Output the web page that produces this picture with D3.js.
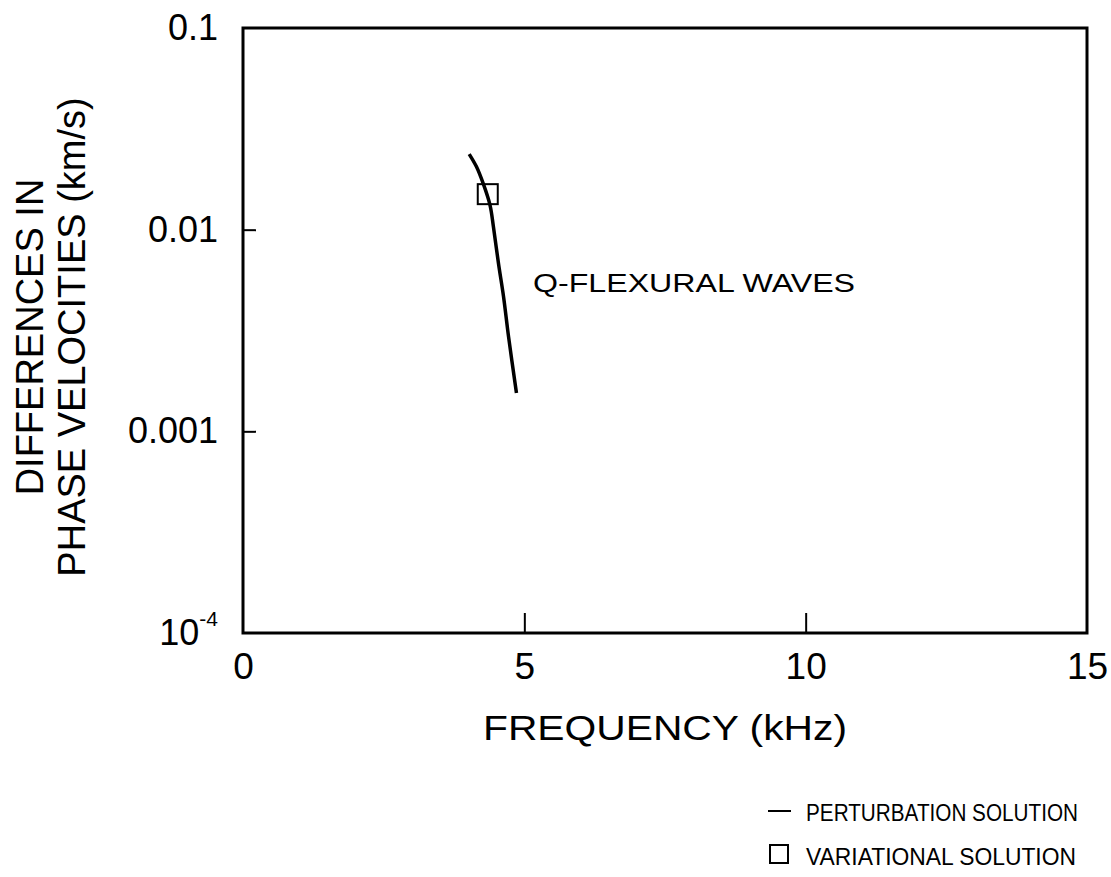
<!DOCTYPE html>
<html>
<head>
<meta charset="utf-8">
<script src="https://cdn.jsdelivr.net/npm/d3@7"></script>
<style>
  body { margin: 0; background: #fff; }
  svg text { font-family: "Liberation Sans", Arial, sans-serif; fill: #000; }
</style>
</head>
<body>
<div class="chartWrapper"></div>
<script>
// perturbation solution curve
var freqKHz = [4.02, 4.15, 4.27, 4.39, 4.45, 4.54, 4.63, 4.72, 4.86];
var dVel = [0.0237, 0.0205, 0.0169, 0.01324, 0.01038, 0.00681, 0.00466, 0.00294, 0.00155];
// variational solution point
var varFreq = [4.35];
var varVel = [0.0150];
var xTicks = [0, 5, 10, 15];
var yTicks = [0.1, 0.01, 0.001, 0.0001];

var width = 1111, height = 877;
var plot = { left: 243, right: 1087, top: 28, bottom: 633 };
var font = '"Liberation Sans", Arial, sans-serif';

var svg = d3.select('.chartWrapper')
  .append('svg')
  .attr('width', width)
  .attr('height', height);

var xScale = d3.scaleLinear().domain([0, 15]).range([plot.left, plot.right]);
var yScale = d3.scaleLog().domain([0.0001, 0.1]).range([plot.bottom, plot.top]);

// frame
svg.append('rect')
  .attr('x', plot.left).attr('y', plot.top)
  .attr('width', plot.right - plot.left).attr('height', plot.bottom - plot.top)
  .attr('fill', 'none').attr('stroke', '#000').attr('stroke-width', 3);

// x axis
var xAxis = d3.axisBottom(xScale).tickValues(xTicks).tickSizeInner(-20).tickSizeOuter(0);
var gx = svg.append('g')
  .attr('transform', 'translate(0,' + plot.bottom + ')')
  .call(xAxis);
gx.select('.domain').remove();
gx.selectAll('.tick line').attr('stroke-width', 2)
  .attr('display', function (d) { return (d === 0 || d === 15) ? 'none' : null; });
gx.selectAll('.tick text')
  .attr('font-size', 37).attr('font-family', font)
  .attr('y', 46).attr('dy', 0);

// y axis
var yAxis = d3.axisLeft(yScale).tickValues(yTicks).tickSizeInner(-13).tickSizeOuter(0).tickPadding(25);
var gy = svg.append('g')
  .attr('transform', 'translate(' + plot.left + ',0)')
  .call(yAxis);
gy.select('.domain').remove();
gy.selectAll('.tick line').attr('stroke-width', 2)
  .attr('display', function (d) { return (d === 0.1 || d === 0.0001) ? 'none' : null; });
gy.selectAll('.tick text')
  .attr('font-size', 36)
  .attr('font-family', font)
  .each(function (d) {
    var t = d3.select(this);
    if (d === 0.0001) {
      t.text('10');
      t.append('tspan').attr('font-size', 21).attr('dy', -19).text('-4');
    } else {
      t.text(String(d));
    }
  });

// axis titles
svg.append('text')
  .attr('x', xScale(7.5)).attr('y', 740)
  .attr('text-anchor', 'middle').attr('font-size', 35)
  .attr('textLength', 364).attr('lengthAdjust', 'spacingAndGlyphs')
  .text('FREQUENCY (kHz)');

var yMid = 337;
svg.append('text')
  .attr('transform', 'translate(43,' + yMid + ') rotate(-90)')
  .attr('text-anchor', 'middle').attr('font-size', 38)
  .text('DIFFERENCES IN');
svg.append('text')
  .attr('transform', 'translate(85,' + yMid + ') rotate(-90)')
  .attr('text-anchor', 'middle').attr('font-size', 38)
  .text('PHASE VELOCITIES (km/s)');

// curve
var line = d3.line()
  .x(function (d, i) { return xScale(freqKHz[i]); })
  .y(function (d) { return yScale(d); })
  .curve(d3.curveCatmullRom);
svg.append('path')
  .datum(dVel)
  .attr('d', line)
  .attr('fill', 'none').attr('stroke', '#000').attr('stroke-width', 3.5);

// variational point
svg.selectAll('.varPt')
  .data(varVel)
  .enter()
  .append('rect')
  .attr('class', 'varPt')
  .attr('x', function (d, i) { return xScale(varFreq[i]) - 10; })
  .attr('y', function (d) { return yScale(d) - 10; })
  .attr('width', 20).attr('height', 20)
  .attr('fill', 'none').attr('stroke', '#000').attr('stroke-width', 2);

// annotation
svg.append('text')
  .attr('x', 533).attr('y', 292)
  .attr('font-size', 25)
  .attr('textLength', 322).attr('lengthAdjust', 'spacingAndGlyphs')
  .text('Q-FLEXURAL  WAVES');

// legend
svg.append('line')
  .attr('x1', 768).attr('x2', 791).attr('y1', 811).attr('y2', 811)
  .attr('stroke', '#000').attr('stroke-width', 2);
svg.append('text')
  .attr('x', 806).attr('y', 821)
  .attr('font-size', 23)
  .attr('textLength', 272).attr('lengthAdjust', 'spacingAndGlyphs')
  .text('PERTURBATION SOLUTION');
svg.append('rect')
  .attr('x', 770).attr('y', 845).attr('width', 18).attr('height', 18)
  .attr('fill', 'none').attr('stroke', '#000').attr('stroke-width', 2);
svg.append('text')
  .attr('x', 806).attr('y', 865)
  .attr('font-size', 23)
  .attr('textLength', 270).attr('lengthAdjust', 'spacingAndGlyphs')
  .text('VARIATIONAL SOLUTION');
</script>
</body>
</html>
